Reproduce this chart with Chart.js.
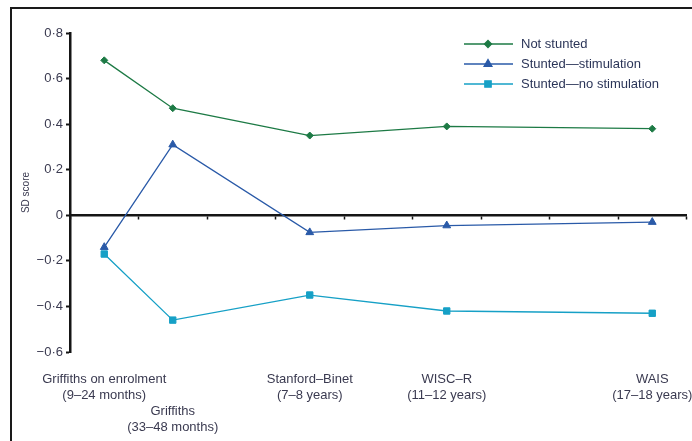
<!DOCTYPE html>
<html>
<head>
<meta charset="utf-8">
<script src="https://cdn.jsdelivr.net/npm/chart.js@4.4.1/dist/chart.umd.min.js"></script>
<style>
    body { margin: 0; background: #fff; }
    #wrap { position: relative; width: 692px; height: 441px; overflow: hidden; }
    #frame {
        position: absolute; left: 10px; top: 7px; right: -10px; bottom: -10px;
        border-left: 2px solid #1a1a1a; border-top: 2px solid #1a1a1a;
        pointer-events: none;
    }
</style>
</head>
<body>
<div id="wrap">
    <canvas id="sd-chart" width="692" height="441"></canvas>
    <div id="frame"></div>
</div>
<script>
// Test and age at testing (x is the age in years, midpoint of the range)
const testNames = ['Griffiths on enrolment', 'Griffiths', 'Stanford–Binet', 'WISC–R', 'WAIS'];
const testAges = ['(9–24 months)', '(33–48 months)', '(7–8 years)', '(11–12 years)', '(17–18 years)'];
const ageYears = [1.5, 3.5, 7.5, 11.5, 17.5];

// SD scores
const notStunted = [0.68, 0.47, 0.35, 0.39, 0.38];
const stuntedStim = [-0.14, 0.31, -0.075, -0.045, -0.03];
const stuntedNoStim = [-0.17, -0.46, -0.35, -0.42, -0.43];

// Axis ticks
const yTicks = [-0.6, -0.4, -0.2, 0, 0.2, 0.4, 0.6, 0.8];
const xTickYears = [0.5, 2.5, 4.5, 6.5, 8.5, 10.5, 12.5, 14.5, 16.5, 18.5];

const GREEN = '#1d7a45';
const BLUE = '#2a5aa8';
const CYAN = '#16a0c6';
const TEXT = '#3a3a50';
const AXIS = '#151515';
const FONT = "'Liberation Sans', Arial, sans-serif";

function toPoints(values) {
    return values.map((v, i) => ({ x: ageYears[i], y: v }));
}

function fmtSd(v) {
    if (Math.abs(v) < 1e-9) return '0';
    return (v < 0 ? '\u2212' : '') + Math.abs(v).toFixed(1).replace('.', '\u00b7');
}

const series = [
    { label: 'Not stunted', data: notStunted, color: GREEN, style: 'rectRot', radius: 3.5 },
    { label: 'Stunted\u2014stimulation', data: stuntedStim, color: BLUE, style: 'triangle', radius: 4.5 },
    { label: 'Stunted\u2014no stimulation', data: stuntedNoStim, color: CYAN, style: 'rect', radius: 4.5 }
];

// Legend in the top right corner: line with the marker in its middle
const insideLegend = {
    id: 'insideLegend',
    afterDraw(chart) {
        const ctx = chart.ctx;
        const rows = [44, 64, 84];
        ctx.save();
        chart.data.datasets.forEach((ds, i) => {
            const y = rows[i];
            ctx.strokeStyle = ds.borderColor;
            ctx.lineWidth = 1.3;
            ctx.beginPath();
            ctx.moveTo(464, y);
            ctx.lineTo(513, y);
            ctx.stroke();
            ctx.fillStyle = ds.pointBackgroundColor;
            ctx.strokeStyle = ds.pointBackgroundColor;
            Chart.helpers.drawPoint(ctx, { pointStyle: ds.pointStyle, radius: ds.pointRadius, borderWidth: 1, rotation: 0 }, 488, y);
            ctx.fillStyle = '#2b3558';
            ctx.font = '13px ' + FONT;
            ctx.textBaseline = 'middle';
            ctx.textAlign = 'left';
            ctx.fillText(ds.label, 521, y);
        });
        ctx.restore();
    }
};

new Chart(document.getElementById('sd-chart'), {
    type: 'line',
    data: {
        datasets: series.map(s => ({
            label: s.label,
            data: toPoints(s.data),
            borderColor: s.color,
            backgroundColor: s.color,
            pointBackgroundColor: s.color,
            pointBorderColor: s.color,
            pointStyle: s.style,
            pointRadius: s.radius,
            pointBorderWidth: 1,
            borderWidth: 1.3,
            tension: 0,
            xAxisID: 'x',
            yAxisID: 'y'
        }))
    },
    options: {
        responsive: false,
        devicePixelRatio: 1,
        animation: false,
        layout: { padding: { left: 0, right: 5, top: 33, bottom: 0 } },
        plugins: {
            legend: { display: false },
            tooltip: { enabled: false }
        },
        scales: {
            // zero line with small tick marks
            x: {
                type: 'linear',
                position: { y: 0 },
                min: 0.5,
                max: 18.5,
                afterBuildTicks: scale => { scale.ticks = xTickYears.map(v => ({ value: v })); },
                ticks: { display: false },
                grid: { drawOnChartArea: false, drawTicks: true, tickLength: 3, tickWidth: 1.5, color: AXIS },
                border: { display: true, color: AXIS, width: 2.5 }
            },
            // category labels under the plot
            labels: {
                type: 'linear',
                position: 'bottom',
                min: 0.5,
                max: 18.5,
                afterBuildTicks: scale => { scale.ticks = ageYears.map(v => ({ value: v })); },
                afterFit: scale => {
                    scale.height = 89;
                    scale.paddingLeft = 0;
                    scale.paddingRight = 0;
                },
                grid: { display: false },
                border: { display: false },
                ticks: {
                    autoSkip: false,
                    maxRotation: 0,
                    minRotation: 0,
                    padding: 11,
                    color: TEXT,
                    font: { family: FONT, size: 13, lineHeight: 1.23 },
                    callback: (value, index) => index === 1
                        ? ['', '', testNames[index], testAges[index]]
                        : [testNames[index], testAges[index]]
                }
            },
            y: {
                min: -0.6,
                max: 0.8,
                afterBuildTicks: scale => { scale.ticks = yTicks.map(v => ({ value: v })); },
                afterFit: scale => { scale.width = 70; },
                border: { display: true, color: AXIS, width: 2.5 },
                grid: { drawOnChartArea: false, drawTicks: true, tickLength: 4, tickWidth: 2, color: AXIS },
                ticks: {
                    padding: 3,
                    color: TEXT,
                    font: { family: FONT, size: 13 },
                    callback: v => fmtSd(v)
                },
                title: {
                    display: true,
                    text: 'SD score',
                    color: TEXT,
                    font: { family: FONT, size: 10 },
                    padding: { top: 20, bottom: 0 }
                }
            }
        }
    },
    plugins: [insideLegend]
});
</script>
</body>
</html>
